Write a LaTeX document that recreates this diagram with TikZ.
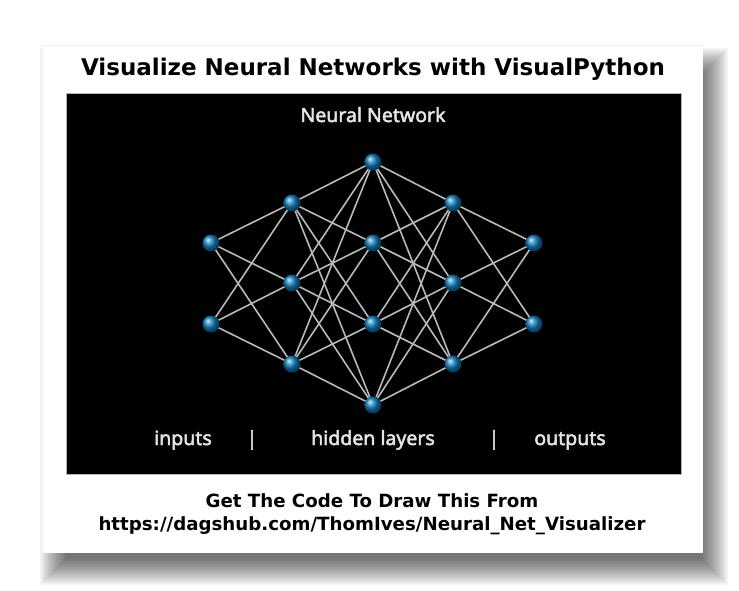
\documentclass[tikz,border=0pt]{standalone}
\usepackage{fontspec}
\newfontfamily\titlefont{DejaVu Sans}
\newfontfamily\labfont[FakeBold=2.5]{Noto Sans}
\definecolor{edgegray}{RGB}{185,185,185}
\definecolor{labgray}{RGB}{228,228,228}
\definecolor{nodeblue}{RGB}{14,128,190}
\tikzset{
  neuron/.style={circle, minimum size=16pt, inner sep=0pt, shading=ball, ball color=nodeblue},
  conn/.style={draw=edgegray, line width=1.6pt},
  lab/.style={text=labgray, font=\labfont\fontsize{19.5}{21}\selectfont, inner sep=0pt, anchor=base},
  ttl/.style={text=black, font=\titlefont\bfseries\fontsize{23}{25}\selectfont, inner sep=0pt, anchor=base},
  foot/.style={text=black, font=\titlefont\bfseries\fontsize{18.2}{20}\selectfont, inner sep=0pt, anchor=base}
}
\begin{document}
\begin{tikzpicture}[x=1pt,y=-1pt]
\useasboundingbox (0,0) rectangle (739,591);
\fill[white] (0,0) rectangle (739,591);
% shadow
\foreach \k in {1,...,14}{
  \fill[black, opacity=0.05] (38+2*\k,46+2*\k) rectangle (730-2*\k,587-2*\k);
}
% card
\fill[white] (42,45) rectangle (703,553);
\draw[black!6, line width=0.8pt] (42,553) -- (42,45) -- (703,45);
\node[ttl] (title) at (373,76) {Visualize Neural Networks with VisualPython};
% black panel
\fill[black] (66,93) rectangle (681,474);
\draw[gray!60, line width=0.6pt] (66,93) rectangle (681,474);
\node[lab] (nn) at (373,122) {Neural Network};
% neurons
\node[neuron] (a1) at (211,243) {};
\node[neuron] (a2) at (211,324) {};
\node[neuron] (b1) at (292,203) {};
\node[neuron] (b2) at (292,283) {};
\node[neuron] (b3) at (292,364) {};
\node[neuron] (c1) at (373,162) {};
\node[neuron] (c2) at (373,243) {};
\node[neuron] (c3) at (373,324) {};
\node[neuron] (c4) at (373,405) {};
\node[neuron] (d1) at (453,203) {};
\node[neuron] (d2) at (453,283) {};
\node[neuron] (d3) at (453,364) {};
\node[neuron] (e1) at (534,243) {};
\node[neuron] (e2) at (534,324) {};
\foreach \i in {a1,a2}{\foreach \j in {b1,b2,b3}{\draw[conn] (\i) -- (\j);}}
\foreach \i in {b1,b2,b3}{\foreach \j in {c1,c2,c3,c4}{\draw[conn] (\i) -- (\j);}}
\foreach \i in {c1,c2,c3,c4}{\foreach \j in {d1,d2,d3}{\draw[conn] (\i) -- (\j);}}
\foreach \i in {d1,d2,d3}{\foreach \j in {e1,e2}{\draw[conn] (\i) -- (\j);}}
% redraw neurons on top of connectors
\foreach \n in {a1,a2,b1,b2,b3,c1,c2,c3,c4,d1,d2,d3,e1,e2}{
  \shade[ball color=nodeblue] (\n.center) circle (8.5);
}
\node[lab] (inp) at (183,445) {inputs};
\node[lab] (s1) at (252,445) {|};
\node[lab] (hid) at (373,445) {hidden layers};
\node[lab] (s2) at (494,445) {|};
\node[lab] (out) at (570,445) {outputs};
% footer
\node[foot] (f1) at (372,507) {Get The Code To Draw This From};
\node[foot] (f2) at (372,530) {https://dagshub.com/ThomIves/Neural\_Net\_Visualizer};
\end{tikzpicture}
\end{document}
